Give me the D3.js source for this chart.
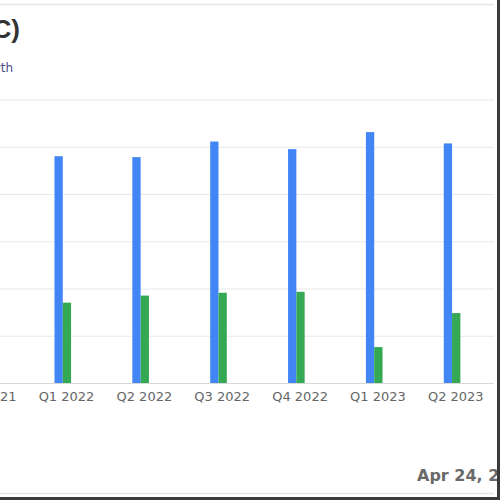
<!DOCTYPE html>
<html>
<head>
<meta charset="utf-8">
<script src="https://cdn.jsdelivr.net/npm/d3@7"></script>
<style>
  html, body { margin: 0; padding: 0; background: #fff; }
  svg { display: block; }
</style>
</head>
<body>
<svg id="chart" width="500" height="500"></svg>
<script>
// ---- data ----
const categories = ["Q4 2021", "Q1 2022", "Q2 2022", "Q3 2022", "Q4 2022", "Q1 2023", "Q2 2023"];
const revenue    = [null, 4.80, 4.78, 5.11, 4.95, 5.31, 5.07];
const netIncome  = [null, 1.70, 1.85, 1.91, 1.93, 0.76, 1.48];
const yTicks     = [0, 1, 2, 3, 4, 5, 6];
const seriesKeys = ["revenue", "netIncome"];
const seriesColors = ["#4285f4", "#34a853"];
const titleText = "Revenue and Net Income (C)";
const subtitleText = "Quarterly Revenue and Net Income Growth";
const dateText = "Apr 24, 2024";

// ---- drawing ----
const svg = d3.select("#chart");
const FONT = "DejaVu Sans, Verdana, sans-serif";

const x0 = d3.scaleBand().domain(categories).range([-50.3, 494.7]).padding(0);
const x1 = d3.scaleBand().domain(seriesKeys).range([-12, 4.6]).padding(0);
const y = d3.scaleLinear().domain([0, 7]).range([383, 52.25]);

// light frame lines
svg.append("line").attr("x1", 0).attr("x2", 494).attr("y1", 4.5).attr("y2", 4.5)
  .attr("stroke", "#e4e4e4").attr("stroke-width", 1.5);
svg.append("line").attr("x1", 0).attr("x2", 494).attr("y1", 493.5).attr("y2", 493.5)
  .attr("stroke", "#e4e4e4").attr("stroke-width", 1.5);

// title & subtitle
svg.append("text").attr("x", 20).attr("y", 37.5).attr("text-anchor", "end")
  .attr("font-family", "Liberation Sans, Arial, sans-serif").attr("font-size", 26)
  .attr("font-weight", "bold").attr("fill", "#333").text(titleText);
svg.append("text").attr("x", 13).attr("y", 72).attr("text-anchor", "end")
  .attr("font-family", FONT).attr("font-size", 12)
  .attr("fill", "#4a4a8c").text(subtitleText);

// gridlines
const yAxis = d3.axisLeft(y).tickValues(yTicks).tickSize(-(494 - (-50)))
  .tickFormat("");
const gy = svg.append("g").attr("transform", "translate(-50,0)").call(yAxis);
gy.select(".domain").remove();
gy.selectAll(".tick line").attr("stroke", d => d === 0 ? "#d8d8d8" : "#e8e8e8").attr("stroke-width", 1.2);

// bars
const rows = categories.map((c, i) => ({ cat: c, revenue: revenue[i], netIncome: netIncome[i] }));
const groups = svg.append("g").selectAll("g").data(rows).join("g")
  .attr("transform", d => `translate(${x0(d.cat) + x0.bandwidth() / 2},0)`);
groups.selectAll("rect")
  .data(d => seriesKeys.map((k, j) => ({ key: k, value: d[k], color: seriesColors[j] })).filter(e => e.value != null))
  .join("rect")
  .attr("x", e => x1(e.key))
  .attr("width", x1.bandwidth())
  .attr("y", e => y(e.value))
  .attr("height", e => y(0) - y(e.value))
  .attr("fill", e => e.color);

// x axis labels
const xAxis = d3.axisBottom(x0).tickSize(0).tickPadding(9);
const gx = svg.append("g").attr("transform", `translate(0,${y(0)})`).call(xAxis);
gx.select(".domain").remove();
gx.selectAll(".tick text").attr("font-family", FONT)
  .attr("font-size", 13).attr("fill", "#666");

// date
svg.append("text").attr("x", 417).attr("y", 481)
  .attr("font-family", FONT).attr("font-size", 16).attr("font-weight", "bold")
  .attr("fill", "#6a6a6a").text(dateText);

// dark outer border (right and bottom)
svg.append("line").attr("x1", 498.5).attr("x2", 498.5).attr("y1", 0).attr("y2", 500)
  .attr("stroke", "#3a3a3a").attr("stroke-width", 3);
svg.append("line").attr("x1", 0).attr("x2", 500).attr("y1", 498.5).attr("y2", 498.5)
  .attr("stroke", "#3a3a3a").attr("stroke-width", 3);
</script>
</body>
</html>
